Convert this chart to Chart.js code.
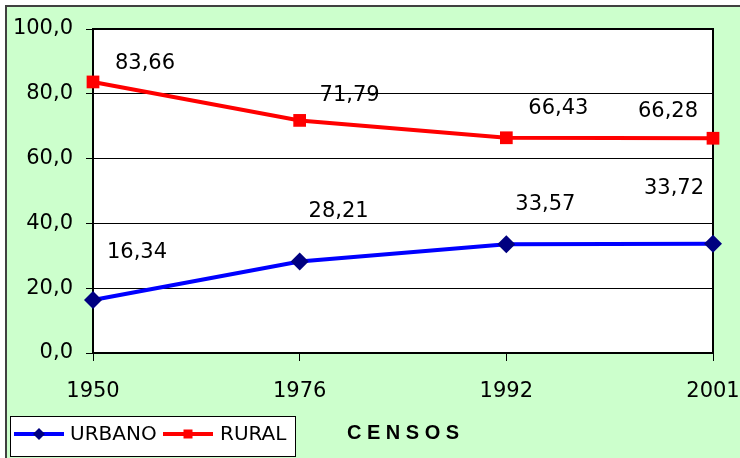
<!DOCTYPE html>
<html>
<head>
<meta charset="utf-8">
<script src="https://cdn.jsdelivr.net/npm/chart.js@4.4.1/dist/chart.umd.min.js"></script>
<style>
  html, body { margin: 0; padding: 0; background: #fff; }
  #wrap { width: 740px; height: 458px; }
</style>
</head>
<body>
<div id="wrap"><canvas id="chart" width="740" height="458"></canvas></div>
<script>
const censos = ['1950', '1976', '1992', '2001'];
const urbano = [16.34, 28.21, 33.57, 33.72];
const rural = [83.66, 71.79, 66.43, 66.28];
const yTicks = [0, 20, 40, 60, 80, 100];

// value labels sit off to the side of each point (px, from the point)
const labelOffsets = [
  [[44, -50], [39, -52], [39, -42], [-39, -57]],
  [[52, -20], [50, -27], [52, -31], [-45, -29]]
];

const FONT = '"DejaVu Sans", sans-serif';
const comma = (v, d) => v.toFixed(d).replace('.', ',');

const decor = {
  id: 'decor',
  beforeDraw(chart) {
    const { ctx, width, height, chartArea: a } = chart;
    ctx.save();
    ctx.fillStyle = '#fff';
    ctx.fillRect(0, 0, width, height);
    ctx.fillStyle = '#ccffcc';
    ctx.fillRect(6, 6, width, height);
    ctx.strokeStyle = '#404040';
    ctx.lineWidth = 2;
    ctx.beginPath();
    ctx.moveTo(6, height);
    ctx.lineTo(6, 6);
    ctx.lineTo(width, 6);
    ctx.stroke();
    ctx.fillStyle = '#fff';
    ctx.fillRect(a.left, a.top, a.right - a.left, a.bottom - a.top);
    ctx.restore();
  },
  beforeDatasetsDraw(chart) {
    const { ctx, chartArea: a } = chart;
    ctx.save();
    ctx.strokeStyle = '#000';
    ctx.lineWidth = 2;
    ctx.strokeRect(a.left, a.top, a.right - a.left, a.bottom - a.top);
    ctx.restore();
  },
  afterDatasetsDraw(chart) {
    const { ctx } = chart;
    ctx.save();
    ctx.font = '21px ' + FONT;
    ctx.fillStyle = '#000';
    ctx.textAlign = 'center';
    ctx.textBaseline = 'middle';
    chart.data.datasets.forEach((ds, i) => {
      chart.getDatasetMeta(i).data.forEach((pt, j) => {
        const [dx, dy] = labelOffsets[i][j];
        // +2: 'middle' sits a bit above the digit centre
        ctx.fillText(comma(ds.data[j], 2), pt.x + dx, pt.y + dy + 2);
      });
    });
    ctx.restore();
  },
  afterDraw(chart) {
    // legend box, bottom left
    const { ctx } = chart;
    const ds = chart.data.datasets;
    ctx.save();
    ctx.fillStyle = '#fff';
    ctx.fillRect(10, 416, 286, 41);
    ctx.strokeStyle = '#000';
    ctx.lineWidth = 1;
    ctx.strokeRect(10.5, 416.5, 285, 40);
    const y = 434;
    const items = [
      { x: 14, textX: 70, textW: 87 },
      { x: 163, textX: 220, textW: 67 }
    ];
    items.forEach((it, i) => {
      ctx.strokeStyle = ds[i].borderColor;
      ctx.lineWidth = 4;
      ctx.beginPath();
      ctx.moveTo(it.x, y);
      ctx.lineTo(it.x + 50, y);
      ctx.stroke();
      const cx = it.x + 25;
      ctx.fillStyle = ds[i].pointBackgroundColor;
      ctx.beginPath();
      if (ds[i].pointStyle === 'rectRot') {
        ctx.moveTo(cx, y - 6);
        ctx.lineTo(cx + 6, y);
        ctx.lineTo(cx, y + 6);
        ctx.lineTo(cx - 6, y);
        ctx.closePath();
      } else {
        ctx.rect(cx - 4.5, y - 4.5, 9, 9);
      }
      ctx.fill();
      ctx.fillStyle = '#000';
      ctx.font = '20px ' + FONT;
      ctx.textBaseline = 'middle';
      ctx.textAlign = 'left';
      ctx.fillText(ds[i].label, it.textX, y + 1, it.textW);
    });
    ctx.restore();
  }
};

new Chart(document.getElementById('chart'), {
  type: 'line',
  data: {
    labels: censos,
    datasets: [
      {
        label: 'URBANO', data: urbano,
        borderColor: '#0000ff', borderWidth: 4,
        pointStyle: 'rectRot', pointRadius: 9, pointHoverRadius: 9,
        pointBackgroundColor: '#000080', pointBorderWidth: 0,
        tension: 0, clip: false
      },
      {
        label: 'RURAL', data: rural,
        borderColor: '#ff0000', borderWidth: 4,
        pointStyle: 'rect', pointRadius: 9, pointHoverRadius: 9,
        pointBackgroundColor: '#ff0000', pointBorderWidth: 0,
        tension: 0, clip: false
      }
    ]
  },
  options: {
    responsive: false,
    animation: false,
    devicePixelRatio: 1,
    layout: { padding: { left: 0, top: 29, right: 27, bottom: 0 } },
    plugins: { legend: { display: false }, tooltip: { enabled: false } },
    scales: {
      x: {
        type: 'category',
        offset: false,
        border: { display: false },
        grid: { drawOnChartArea: false, drawTicks: true, tickLength: 8, color: '#000', lineWidth: 1 },
        ticks: { color: '#000', font: { family: FONT, size: 21 }, padding: 18, maxRotation: 0, autoSkip: false },
        title: {
          display: true, text: 'C E N S O S', color: '#000',
          font: { family: '"Liberation Sans", Arial, sans-serif', size: 20, weight: 'bold' },
          padding: { top: 0, bottom: 13 }
        },
        afterFit(s) { s.height = 105; s.paddingLeft = 0; s.paddingRight = 0; }
      },
      y: {
        min: 0, max: 100,
        border: { display: false },
        grid: { color: '#000', lineWidth: 1, tickLength: 7, drawTicks: true },
        ticks: { color: '#000', font: { family: FONT, size: 21 }, padding: 13, callback: v => comma(v, 1) },
        afterBuildTicks(s) { s.ticks = yTicks.map(v => ({ value: v })); },
        afterFit(s) { s.width = 93; }
      }
    }
  },
  plugins: [decor]
});
</script>
</body>
</html>
